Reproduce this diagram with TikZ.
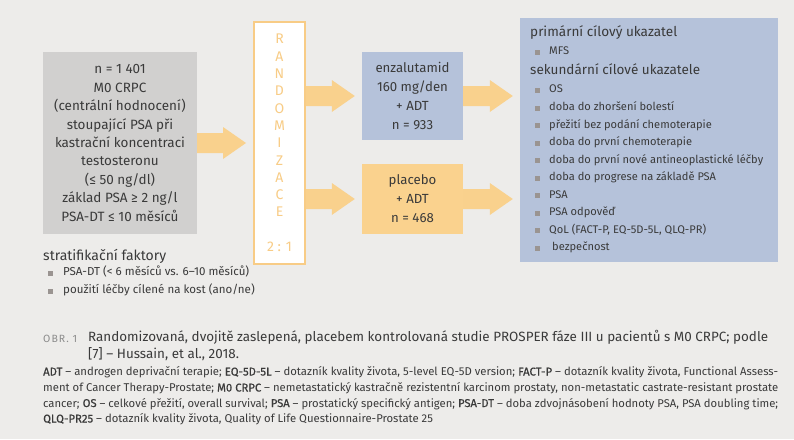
\documentclass[tikz,border=0pt]{standalone}
\usepackage{fontspec}
\setmainfont{Fira Sans}
\newfontface\sbf{Fira Sans}[FakeBold=0.6]
\newfontface\obrfont{Fira Sans}[LetterSpace=10]
\usetikzlibrary{calc}
\definecolor{bgc}{HTML}{EDECEA}
\definecolor{greyc}{HTML}{D1D0CF}
\definecolor{bluec}{HTML}{B5C2DA}
\definecolor{orangec}{HTML}{FAD28E}
\definecolor{arrowc}{HTML}{F9D18D}
\definecolor{randc}{HTML}{F8CC86}
\definecolor{txt}{HTML}{3A3A3A}
\definecolor{bulc}{HTML}{9A9491}
\definecolor{capgrey}{HTML}{8C8C8C}
\newsavebox\measbox
% #1 target width (pt), #2 sample text, #3 baselineskip
\newcommand\setfit[3]{%
  \sbox\measbox{\fontsize{10}{12}\selectfont #2}%
  \pgfmathsetmacro\fitfs{10*#1/\the\wd\measbox}%
  \fontsize{\fitfs pt}{#3}\selectfont}
\newcommand\fnA{{\sbf ADT} – androgen deprivační terapie; {\sbf EQ-5D-5L} – dotazník kvality života, 5-level EQ-5D version; {\sbf FACT-P} – dotazník kvality života, Functional Assess-}
\newcommand\fnB{ment of Cancer Therapy-Prostate; {\sbf M0 CRPC} – nemetastatický kastračně rezistentní karcinom prostaty, non-metastatic castrate-resistant prostate}
\newcommand\fnC{cancer; {\sbf OS} – celkové přežití, overall survival; {\sbf PSA} – prostatický specifický antigen; {\sbf PSA-DT} – doba zdvojnásobení hodnoty PSA, PSA doubling time;}
\newcommand\fnD{{\sbf QLQ-PR25} – dotazník kvality života, Quality of Life Questionnaire-Prostate 25}
\newcommand\blockarrow[2]{%
  \fill[arrowc] let \p1=(#1), \p2=(#2) in
    (\x1,\y1+10pt) -- (\x2-30pt,\y1+10pt) -- (\x2-30pt,\y1+16pt) -- (\x2-7pt,\y1)
    -- (\x2-30pt,\y1-16pt) -- (\x2-30pt,\y1-10pt) -- (\x1,\y1-10pt) -- cycle;}
\tikzset{
  boxnode/.style={inner sep=0pt, align=center, text=txt},
  lbl/.style={inner sep=0pt, anchor=west, text=txt, text height=0.75em, text depth=0.25em},
  itemf/.style={font=\setfit{214}{doba do první nové antineoplastické léčby}{15pt}},
  stratf/.style={font=\setfit{186}{PSA-DT (< 6 měsíců vs. 6–10 měsíců)}{15pt}},
  capf/.style={font=\setfit{680}{Randomizovaná, dvojitě zaslepená, placebem kontrolovaná studie PROSPER fáze III u pacientů s M0 CRPC; podle}{17pt}},
  fnf/.style={font=\setfit{735}{\fnA}{14pt}},
  bulletsq/.style={fill=bulc, minimum size=5pt, inner sep=0pt, outer sep=0pt}
}
\begin{document}
\begin{tikzpicture}[x=1pt,y=-1pt]
\useasboundingbox[fill=bgc] (0,0) rectangle (794,439);
% main boxes
\node[boxnode, fill=greyc, minimum width=154pt, minimum height=182pt,
      font=\setfit{130}{kastrační koncentraci}{18.4pt}] (grey) at (120,143)
  {n = 1 401\\M0 CRPC\\(centrální hodnocení)\\stoupající PSA při\\kastrační koncentraci\\testosteronu\\(≤ 50 ng/dl)\\základ PSA ≥ 2 ng/l\\PSA-DT ≤ 10 měsíců};
\node[boxnode, fill=white, draw=randc, line width=2pt, minimum width=51pt, minimum height=242pt,
      text=randc, font=\setfit{25}{2 : 1}{17.3pt}] (rand) at (279.5,143)
  {R\\A\\N\\D\\O\\M\\I\\Z\\A\\C\\E\\[17.3pt]2 : 1};
\node[boxnode, fill=bluec, minimum width=101pt, minimum height=88pt,
      font=\setfit{74}{enzalutamid}{19pt}] (enz) at (412.5,96)
  {enzalutamid\\160 mg/den\\+ ADT\\n = 933};
\node[boxnode, fill=orangec, minimum width=101pt, minimum height=70pt,
      font=\setfit{74}{enzalutamid}{19pt}] (plac) at (412.5,199)
  {placebo\\+ ADT\\n = 468};
\node[boxnode, fill=bluec, minimum width=258pt, minimum height=244pt] (end) at (649,140) {};
% arrows
\blockarrow{grey.east}{rand.west}
\blockarrow{rand.east |- enz.west}{enz.west}
\blockarrow{rand.east |- plac.west}{plac.west}
\blockarrow{enz.east}{end.west |- enz.east}
\blockarrow{plac.east}{end.west |- plac.east}
% endpoints text
\node[lbl, font=\setfit{147}{primární cílový ukazatel}{18pt}] (prim) at (530,34) {primární cílový ukazatel};
\node[lbl, font=\setfit{170}{sekundární cílové ukazatele}{18pt}] (sek) at (530,72) {sekundární cílové ukazatele};
\foreach \t/\yy/\dx [count=\i] in {MFS/52/0, OS/90/0, doba do zhoršení bolestí/108/0,
  přežití bez podání chemoterapie/125.5/0, doba do první chemoterapie/143/0,
  doba do první nové antineoplastické léčby/160.5/0, doba do progrese na základě PSA/178/0,
  PSA/195.5/0, PSA odpověď/213/0, {QoL (FACT-P, EQ-5D-5L, QLQ-PR)}/230.5/0, bezpečnost/248/3}{
  \node[bulletsq] (eb\i) at (537.5,\yy) {};
  \node[lbl, itemf] (et\i) at (549+\dx,\yy) {\t};
}
% stratification
\node[lbl, font=\setfit{123}{stratifikační faktory}{18pt}] (strat) at (43,258) {stratifikační faktory};
\node[bulletsq] (sb1) at (50.5,273) {};
\node[lbl, stratf] (st1) at (63,273) {PSA-DT (< 6 měsíců vs. 6–10 měsíců)};
\node[bulletsq] (sb2) at (50.5,291) {};
\node[lbl, stratf] (st2) at (63,291) {použití léčby cílené na kost (ano/ne)};
% caption
\node[lbl, text=capgrey, font=\setfit{34}{\obrfont OBR. 1}{11pt}\obrfont] (obr) at (43,340) {OBR. 1};
\node[lbl, capf] (cap1) at (88,339) {Randomizovaná, dvojitě zaslepená, placebem kontrolovaná studie PROSPER fáze III u pacientů s M0 CRPC; podle};
\node[lbl, capf] (cap2) at (88,356) {[7] – Hussain, et al., 2018.};
% footnotes
\node[lbl, fnf] (fn1) at (43,373) {\fnA};
\node[lbl, font=\setfit{735}{\fnB}{14pt}] (fn2) at (43,389) {\fnB};
\node[lbl, font=\setfit{735}{\fnC}{14pt}] (fn3) at (43,404.5) {\fnC};
\node[lbl, fnf] (fn4) at (43,420) {\fnD};
\end{tikzpicture}
\end{document}
